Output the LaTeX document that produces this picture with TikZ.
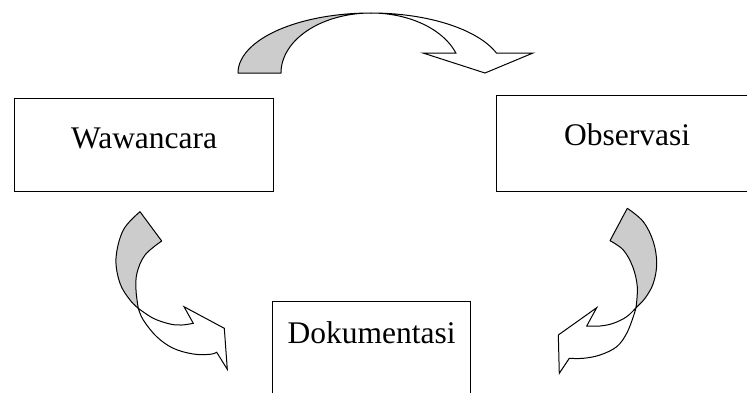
\documentclass[tikz,border=0pt]{standalone}
\usepackage{fontspec}
\setmainfont{Liberation Serif}
\definecolor{backface}{RGB}{204,204,204}
\begin{document}
\begin{tikzpicture}[x=1pt,y=-1pt,
  box/.style={draw=black,line width=1.2pt,fill=white,inner sep=0pt,
    anchor=north west,font=\fontsize{31.5}{36}\selectfont},
  back/.style={draw=black,line width=1pt,fill=backface,line join=round},
  front/.style={draw=black,line width=1pt,fill=white,line join=miter}]
\useasboundingbox (0,0) rectangle (747,392);

% the three activity boxes
\node[box,minimum width=259pt,text height=50pt,text depth=43pt] (waw) at (14,98) {Wawancara};
\node[box,minimum width=261pt,text height=50pt,text depth=46pt] (obs) at (496,95) {Observasi};
\node[box,minimum width=198pt,text height=42pt,text depth=57pt] (dok) at (272,301) {Dokumentasi};

% curved arrow over the top: Wawancara -> Observasi
\filldraw[back]
  plot[domain=180:90,samples=40] ({371+133*cos(\x)},{73-60*sin(\x)})
  -- plot[domain=90:180,samples=40] ({371+90*cos(\x)},{73-60*sin(\x)}) -- cycle;
\filldraw[front]
  plot[domain=90:19.47,samples=40] ({371+133*cos(\x)},{73-60*sin(\x)})
  -- (533,53) -- (485,73) -- (423,53)
  -- plot[domain=19.47:90,samples=40] ({371+90*cos(\x)},{73-60*sin(\x)}) -- cycle;

% curved arrow on the left: Wawancara -> Dokumentasi
\filldraw[back]
  plot[smooth,tension=0.6] coordinates {(140,211.7) (123.3,230) (116,258.3) (120,283.3) (130,300) (138.3,308.3)}
  -- plot[smooth,tension=0.6] coordinates {(138.3,308.3) (136,290) (137,273) (145,255) (161.7,241)}
  -- cycle;
\filldraw[front]
  plot[smooth,tension=0.6] coordinates {(138.3,308.3) (143.3,320) (156.7,336.7) (173.3,348.3) (193.3,354) (210,354.3) (216.7,352.3)}
  -- (227.3,369.3) -- (224.3,328.3) -- (184,306.7)
  -- plot[smooth,tension=0.6] coordinates {(193.3,323.3) (181.7,325) (170,324) (153.3,318.3) (138.3,308.3)}
  -- cycle;

% curved arrow on the right: Observasi -> Dokumentasi
\filldraw[back]
  plot[smooth,tension=0.6] coordinates {(627.3,208.3) (643.3,221.7) (653.3,241.7) (656.7,263.3) (653.3,283.3) (645,298.3) (636,307.7)}
  -- plot[smooth,tension=0.6] coordinates {(636,307.7) (637.3,286.7) (632.7,266.7) (623.3,250) (610,240.7)}
  -- cycle;
\filldraw[front]
  plot[smooth,tension=0.6] coordinates {(636,307.7) (633.3,316.7) (626.7,333.3) (616.7,346.7) (600,355) (583.3,358.3) (569.3,358.3)}
  -- (559.3,373.3) -- (558.3,335) -- (596.7,307.7)
  -- plot[smooth,tension=0.6] coordinates {(586.7,326) (600,326) (613.3,323.3) (626.7,316.7) (636,307.7)}
  -- cycle;
\end{tikzpicture}
\end{document}
